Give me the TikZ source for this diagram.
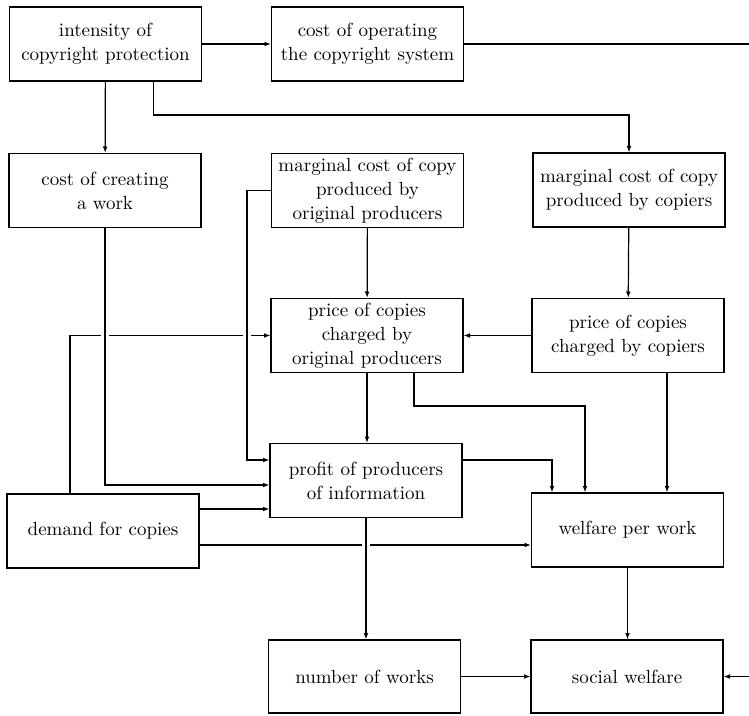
\documentclass[tikz,border=0pt]{standalone}
\usetikzlibrary{arrows.meta,calc}
\begin{document}
\begin{tikzpicture}[x=0.5pt,y=-0.5pt,line width=0.6pt,
  box/.style={draw, line width=0.6pt, minimum width=96pt, minimum height=37pt,
    align=center, inner sep=0pt, font=\fontsize{9.5}{12}\selectfont},
  arr/.style={-{Latex[length=3.2pt,width=2.4pt]}},
  bridge/.style={preaction={draw=white, line width=4pt, arrows=-, shorten <=3pt, shorten >=3pt}}]
\useasboundingbox (0,0) rectangle (749,716);
% nodes
\node[box] (int)    at (105.5,44)  {intensity of\\copyright protection};
\node[box] (op)     at (367.5,44)  {cost of operating\\the copyright system};
\node[box] (create) at (105,190.5) {cost of creating\\a work};
\node[box] (mco)    at (367.5,190.5) {marginal cost of copy\\produced by\\original producers};
\node[box] (mcc)    at (629,190)   {marginal cost of copy\\produced by copiers};
\node[box] (po)     at (367,335.5) {price of copies\\charged by\\original producers};
\node[box] (pc)     at (628,335.5) {price of copies\\charged by copiers};
\node[box] (prof)   at (366,480.5) {profit of producers\\of information};
\node[box] (dem)    at (103,531)   {demand for copies};
\node[box] (wpw)    at (627.5,530) {welfare per work};
\node[box, minimum height=36.5pt] (now) at (364.5,676.5) {number of works};
\node[box, minimum height=36.5pt] (sw)  at (627,676.5)   {social welfare};
\coordinate (outTR) at (749,44);
\coordinate (inBR)  at (749,676.5);
% connectors
\draw[arr] (int) -- (op);
\draw (op) -- (outTR);
\draw[arr] (int) -- (create);
\draw[arr] ($(int.south)+(48,0)$) coordinate (b1) -- (b1 |- 0,115) -| (mcc.north);
\draw[arr] ($(dem.north)+(-33,0)$) |- (po.west);
\draw[arr] ($(dem.east)+(0,-22)$) coordinate (d1) -- (prof.west |- d1);
\draw[arr] ($(dem.east)+(0,14)$) coordinate (d2) -- (wpw.west |- d2);
\draw[arr,bridge] (create.south) |- (prof.west |- 0,485);
\draw[arr,bridge] (mco.west) -| (247,460) -- (prof.west |- 0,460);
\draw[arr] (mco) -- (po);
\draw[arr] (mcc) -- (pc);
\draw[arr] (pc) -- (po);
\draw[arr] (po) -- (po |- prof.north);
\draw[arr] ($(po.south)+(47,0)$) coordinate (p1) -- (p1 |- 0,406) -| ($(wpw.north)+(-42.5,0)$);
\draw[arr] ($(pc.south)+(39,0)$) -- ($(wpw.north)+(39.5,0)$);
\draw[arr] ($(prof.east)+(0,-20.5)$) -| ($(wpw.north)+(-75.5,0)$);
\draw[arr,bridge] (prof.south) -- (prof.south |- now.north);
\draw[arr] (wpw) -- (wpw |- sw.north);
\draw[arr] (now) -- (sw);
\draw[arr] (inBR) -- (sw.east);
\end{tikzpicture}
\end{document}
